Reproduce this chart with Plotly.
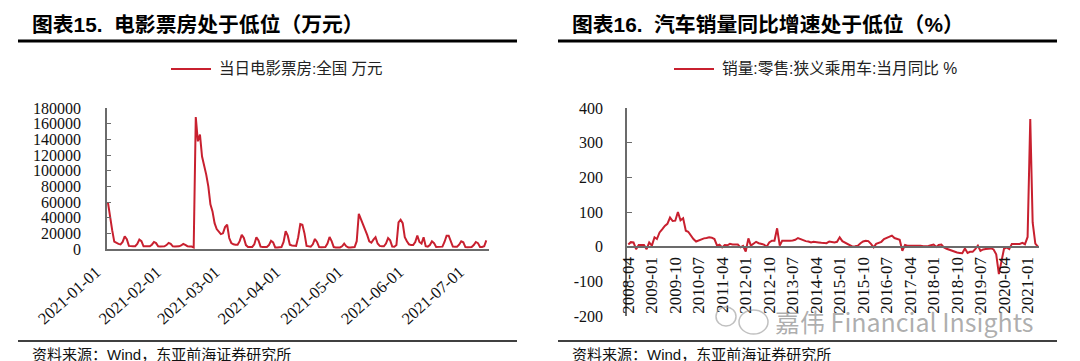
import plotly.graph_objects as go
import pandas as pd

# ---------------- data ----------------
box_start = "2021-01-01"
box_values = [
    59000, 40000, 24000, 9500, 7500, 6500, 6000, 9000, 16000, 12500,
    4000, 3500, 3400, 3500, 6500, 12000, 10000, 3500, 3300, 3300,
    3400, 5500, 9000, 7500, 3400, 3300, 3300, 3400, 5000, 7800,
    6500, 3400, 3300, 3300, 3400, 4500, 6400, 5200, 3600, 3300,
    3200, 2000, 168500, 137500, 146000, 118000, 108000, 95000, 80000, 57000,
    48000, 33000, 25500, 22600, 19000, 20000, 28000, 31000, 14000, 7700,
    6000, 5500, 5500, 10000, 18000, 14000, 5000, 2600, 2500, 2600,
    6000, 15000, 11000, 3000, 2500, 2500, 2600, 5000, 10600, 8500,
    2000, 1800, 2000, 2500, 9000, 22600, 17000, 5500, 4500, 4000,
    4000, 15000, 31900, 31000, 20000, 4000, 3000, 3000, 6000, 12800,
    9000, 2500, 2300, 2300, 2500, 7000, 15300, 10000, 2500, 2000,
    2000, 2000, 3500, 6800, 3500, 2000, 2000, 2000, 2500, 10000,
    45000, 38000, 32000, 26000, 18000, 9800, 8000, 12000, 15000, 7000,
    4000, 3500, 3500, 7000, 14000, 11000, 3000, 2800, 5000, 34000,
    37400, 33000, 15000, 9800, 6000, 5000, 5000, 9000, 17000, 9000,
    7000, 15000, 3500, 3000, 5000, 9800, 7500, 2500, 2500, 2500,
    3000, 9000, 17000, 17000, 11000, 3000, 2800, 2800, 5500, 9800,
    8500, 2500, 2300, 2300, 2500, 5000, 9000, 7500, 2500, 2500,
    3500, 11000,
]
box_tick_dates = ["2021-01-01", "2021-01-30", "2021-02-27", "2021-03-28",
                  "2021-04-27", "2021-05-26", "2021-06-24"]
box_tick_labels = ["2021-01-01", "2021-02-01", "2021-03-01", "2021-04-01",
                   "2021-05-01", "2021-06-01", "2021-07-01"]
box_y_ticks = [0, 20000, 40000, 60000, 80000, 100000, 120000, 140000, 160000, 180000]
box_y_labels = ["0", "20000", "40000", "60000", "80000", "100000", "120000",
                "140000", "160000", "180000"]

car_start = "2008-04-01"
car_values = [
    6, 13, 12, -7, 5, 6, 5, -7, 12,
    3, 27, 22, 41, 50, 60, 66, 84, 74, 75, 100, 76,
    82, 46, 43, 32, 22, 15, 18, 22, 24, 25, 27, 26,
    22, 3, 6, -2, 5, 4, 8, 6, 7, 6, -2, 2,
    -14, 24, 3, 8, 14, 10, 8, 6, 0, 12, 17, 17,
    53, 3, 17, 17, 15, 17, 18, 20, 25, 22, 18, 16,
    15, 12, 14, 12, 12, 11, 10, 10, 15, 14, 12, 14,
    27, 16, 12, 7, 3, 0, 1, 3, 10, 15, 17, 16,
    8, -2, 8, 10, 14, 22, 26, 30, 32, 25, 23, 20,
    -12, 5, 3, 3, 4, 4, 5, 3, 1, 1, 2, 4,
    6, -1, 5, 6, -2, -6, -9, -11, -14, -17, -18, -19,
    -5, -18, -15, -15, -7, 3, -12, -8, -7, -7, -5, -8,
    -22, -79, -40, -6, -2, -7, 8, 8, 7, 8, 11, 7,
    28, 368, 70, 9, 0,
]
car_y_ticks = [-200, -100, 0, 100, 200, 300, 400]
car_y_labels = ["-200", "-100", "0", "100", "200", "300", "400"]

box_dates = pd.date_range(box_start, periods=len(box_values), freq="D")
car_dates = pd.date_range(car_start, periods=len(car_values), freq="MS")

# ---------------- layout helpers ----------------
W, H = 1080, 361
def px(x):
    return x / W
def py(y):
    return 1 - y / H

RED = "#C8202F"
AXIS = "#6b6b6b"
SERIF = "Liberation Serif"
CJK = "Liberation Sans, Noto Sans CJK SC, sans-serif"

fig = go.Figure()
fig.add_trace(go.Scatter(x=box_dates, y=box_values, mode="lines",
                         line=dict(color=RED, width=2), xaxis="x", yaxis="y",
                         showlegend=False, name="当日电影票房:全国 万元"))
fig.add_trace(go.Scatter(x=car_dates, y=car_values, mode="lines",
                         line=dict(color=RED, width=2), xaxis="x2", yaxis="y2",
                         showlegend=False, name="销量:零售:狭义乘用车:当月同比 %"))

fig.update_layout(
    template="none",
    width=W, height=H, autosize=False,
    margin=dict(l=0, r=0, t=0, b=0, pad=0, autoexpand=False),
    paper_bgcolor="white", plot_bgcolor="white",
    showlegend=False,
    xaxis=dict(domain=[px(99), px(481)], anchor="y", automargin=False,
               range=["2020-12-31 12:30", "2021-07-02 07:00"],
               tickvals=box_tick_dates, ticktext=box_tick_labels,
               tickangle=-42, tickfont=dict(family=SERIF, size=16.5, color="#111"),
               showline=True, linecolor=AXIS, linewidth=2, ticks="",
               showgrid=False, zeroline=False, ticklabelstandoff=5,
               ticklabelshift=-12),
    yaxis=dict(domain=[py(241), py(100)], anchor="x", automargin=False,
               range=[0, 180000], tickvals=box_y_ticks, ticktext=box_y_labels,
               tickfont=dict(family=SERIF, size=16, color="#111"),
               showline=True, linecolor=AXIS, linewidth=1.5,
               ticks="inside", ticklen=4, tickcolor=AXIS,
               showgrid=False, zeroline=False, ticklabelstandoff=21),
    xaxis2=dict(domain=[px(619), px(1031)], anchor="free", position=py(239.2),
                automargin=False,
                range=["2008-03-17", "2021-05-14"],
                tick0="2008-04-01", dtick="M9", tickformat="%Y-%m",
                tickangle=-90, tickfont=dict(family=SERIF, size=17, color="#111"),
                showline=True, linecolor=AXIS, linewidth=2, ticks="",
                showgrid=False, zeroline=False, ticklabelstandoff=2),
    yaxis2=dict(domain=[py(308), py(100)], anchor="x2", automargin=False,
                range=[-200, 400], tickvals=car_y_ticks, ticktext=car_y_labels,
                tickfont=dict(family=SERIF, size=16, color="#111"),
                showline=True, linecolor=AXIS, linewidth=1.5,
                ticks="inside", ticklen=5, tickcolor=AXIS,
                showgrid=False, zeroline=False, ticklabelstandoff=19),
)

shapes = []
annotations = []
for x0, title, legend_txt, lx0, lsize in [
    (10, "图表15.  电影票房处于低位（万元）", "当日电影票房:全国 万元", 163, 15.5),
    (550, "图表16.  汽车销量同比增速处于低位（%）", "销量:零售:狭义乘用车:当月同比 %", 666, 15.7),
]:
    shapes.append(dict(type="line", xref="paper", yref="paper",
                       x0=px(x0), x1=px(x0 + 499), y0=py(33), y1=py(33),
                       line=dict(color="black", width=3)))
    shapes.append(dict(type="line", xref="paper", yref="paper",
                       x0=px(x0), x1=px(x0 + 499), y0=py(333), y1=py(333),
                       line=dict(color="black", width=1.5)))
    shapes.append(dict(type="line", xref="paper", yref="paper",
                       x0=px(lx0), x1=px(lx0 + 40), y0=py(61), y1=py(61),
                       line=dict(color=RED, width=2)))
    annotations.append(dict(text="<b>" + title + "</b>", xref="paper", yref="paper",
                            x=px(x0 + 12), y=py(17), xanchor="left", yanchor="middle",
                            showarrow=False, font=dict(family=CJK, size=20.8, color="black")))
    annotations.append(dict(text=legend_txt, xref="paper", yref="paper",
                            x=px(lx0 + 46), y=py(61), xanchor="left", yanchor="middle",
                            showarrow=False, font=dict(family=CJK, size=lsize, color="#222")))
    annotations.append(dict(text="资料来源：Wind，东亚前海证券研究所", xref="paper", yref="paper",
                            x=px(x0 + 12), y=py(346), xanchor="left", yanchor="middle",
                            showarrow=False, font=dict(family=CJK, size=15, color="#111")))

# watermark
annotations.append(dict(text="嘉伟 Financial Insights", xref="paper", yref="paper",
                        x=px(765), y=py(313), xanchor="left", yanchor="middle",
                        showarrow=False,
                        font=dict(family="Noto Sans CJK SC, sans-serif", size=25,
                                  color="rgba(120,120,120,0.6)")))
shapes.append(dict(type="circle", xref="paper", yref="paper",
                   x0=px(708), x1=px(728), y0=py(318), y1=py(299),
                   line=dict(color="rgba(150,150,150,0.6)", width=1.5)))
shapes.append(dict(type="circle", xref="paper", yref="paper",
                   x0=px(731), x1=px(760), y0=py(326), y1=py(302),
                   line=dict(color="rgba(150,150,150,0.6)", width=1.5)))

fig.update_layout(shapes=shapes, annotations=annotations)
fig.write_html("out.html")
